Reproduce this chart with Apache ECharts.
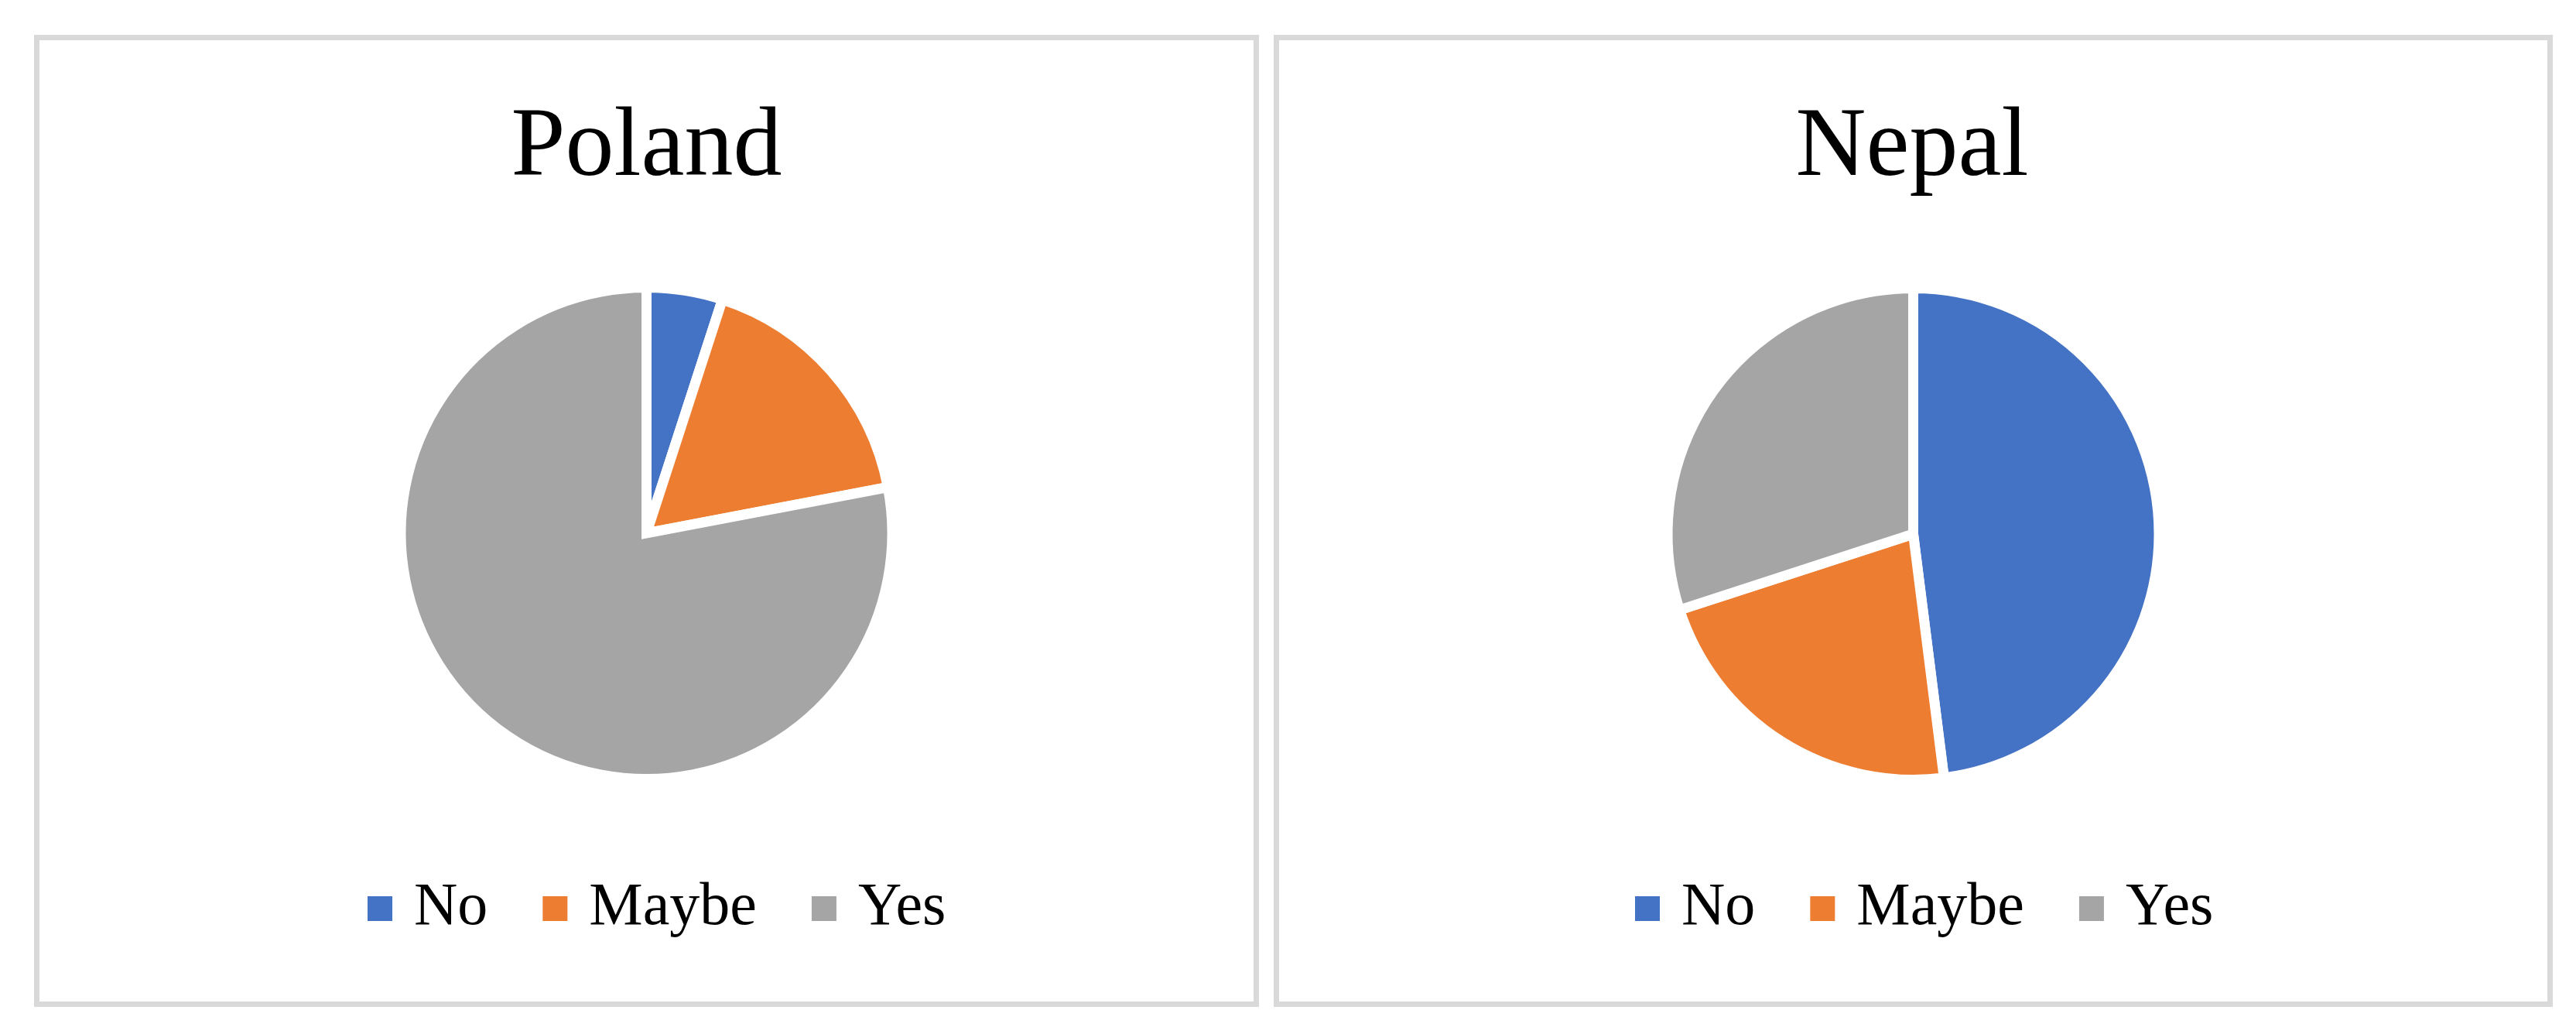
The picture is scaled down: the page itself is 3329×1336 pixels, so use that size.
<!DOCTYPE html>
<html>
<head>
<meta charset="utf-8">
<script src="https://cdn.jsdelivr.net/npm/echarts@6/dist/echarts.min.js"></script>
<style>
html,body{margin:0;padding:0;background:#fff;}
#chart{width:3329px;height:1336px;}
</style>
</head>
<body>
<div id="chart"></div>
<script>
const categories = ['No', 'Maybe', 'Yes'];
const polandValues = [5, 17, 78];
const nepalValues = [48, 22, 30];
const panelTitles = ['Poland', 'Nepal'];
const colors = ['#4472C4', '#ED7D31', '#A5A5A5'];

const FONT = '"Liberation Serif", "Times New Roman", serif';

function pieData(values) {
  return categories.map((c, i) => ({ name: c, value: values[i] }));
}

function pieSeries(name, values, center) {
  return {
    type: 'pie',
    name: name,
    center: center,
    radius: 317.5,
    startAngle: 90,
    clockwise: true,
    silent: true,
    label: { show: false },
    labelLine: { show: false },
    itemStyle: { borderColor: '#ffffff', borderWidth: 13, borderJoin: 'miter' },
    emphasis: { disabled: true },
    data: pieData(values)
  };
}

function legendAt(left) {
  return {
    left: left,
    top: 1135,
    orient: 'horizontal',
    padding: 0,
    icon: 'rect',
    itemWidth: 32,
    itemHeight: 32,
    itemGap: 71,
    selectedMode: false,
    itemStyle: { borderWidth: 0 },
    data: categories,
    formatter: '{g| }{name}',
    textStyle: {
      fontFamily: FONT,
      fontSize: 78,
      lineHeight: 78,
      color: '#000000',
      rich: { g: { width: 23, fontSize: 78, lineHeight: 78 } }
    }
  };
}

function titleText(text, x) {
  return {
    type: 'text',
    x: x,
    y: 193,
    silent: true,
    style: {
      text: text,
      fontFamily: FONT,
      fontSize: 126,
      fill: '#000000',
      align: 'center',
      verticalAlign: 'middle',
      textAlign: 'center',
      textVerticalAlign: 'middle'
    }
  };
}

const chart = echarts.init(document.getElementById('chart'), null, { renderer: 'canvas' });
chart.setOption({
  animation: false,
  backgroundColor: '#ffffff',
  color: colors,
  graphic: [
    { type: 'rect', silent: true, shape: { x: 47.5, y: 48.5, width: 1576, height: 1249 },
      style: { fill: 'none', stroke: '#d9d9d9', lineWidth: 7 } },
    { type: 'rect', silent: true, shape: { x: 1649.5, y: 48.5, width: 1646, height: 1249 },
      style: { fill: 'none', stroke: '#d9d9d9', lineWidth: 7 } },
    titleText(panelTitles[0], 835.5),
    titleText(panelTitles[1], 2471)
  ],
  legend: [legendAt(475), legendAt(2113)],
  series: [
    pieSeries(panelTitles[0], polandValues, [835.5, 689]),
    pieSeries(panelTitles[1], nepalValues, [2472.5, 690])
  ]
});
</script>
</body>
</html>
